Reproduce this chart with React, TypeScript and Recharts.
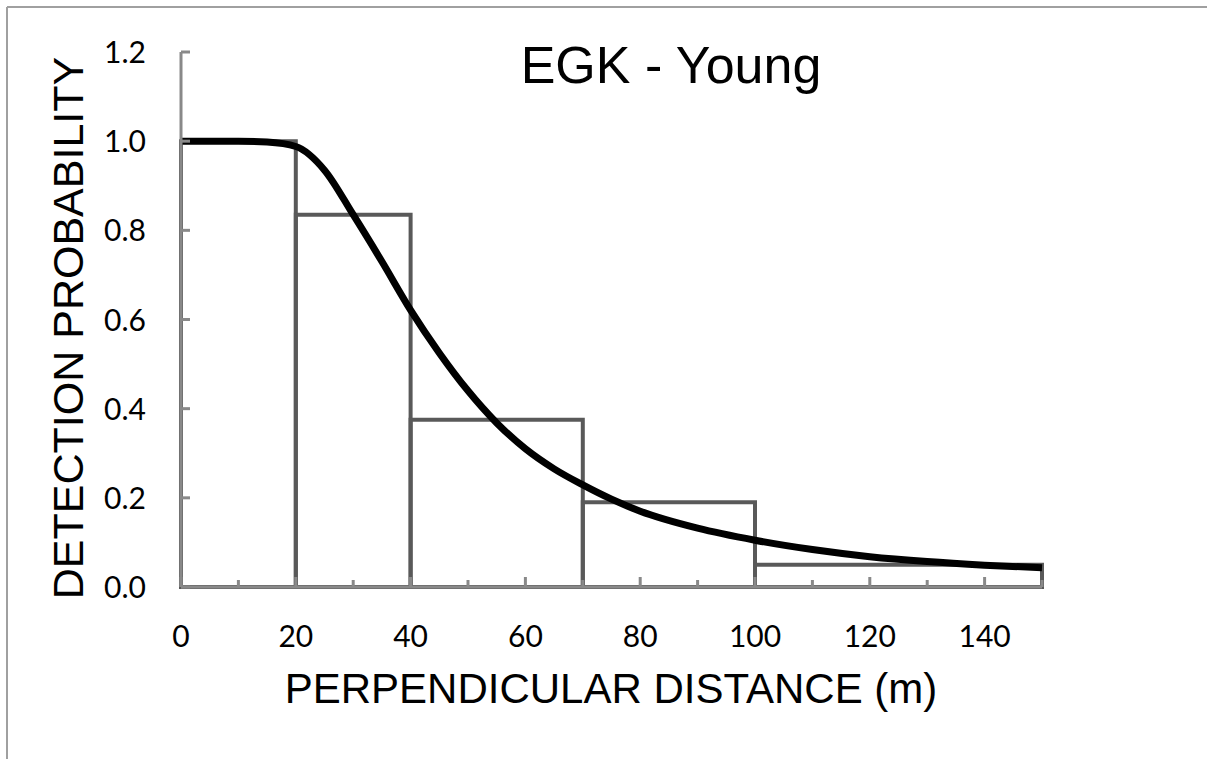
import React from 'react'
import {
  LineChart,
  Line,
  XAxis,
  YAxis,
  ReferenceArea,
  Label,
} from 'recharts'

// detection function curve
const distance = [0, 5, 10, 15, 20, 25, 30, 35, 40, 45, 50, 55, 60, 65, 70, 75, 80, 90, 100, 110, 120, 130, 140, 150]
const probability = [1.0, 1.0, 1.0, 0.998, 0.988, 0.935, 0.835, 0.73, 0.621, 0.525, 0.44, 0.368, 0.31, 0.265, 0.229, 0.197, 0.17, 0.132, 0.105, 0.084, 0.068, 0.057, 0.049, 0.043]

// histogram bins
const binStart = [0, 20, 40, 70, 100]
const binEnd = [20, 40, 70, 100, 150]
const binHeight = [1.0, 0.835, 0.375, 0.19, 0.05]

const xTicks = [0, 10, 20, 30, 40, 50, 60, 70, 80, 90, 100, 110, 120, 130, 140, 150]
const yTicks = [0, 0.2, 0.4, 0.6, 0.8, 1.0, 1.2]

const data = distance.map((d, i) => ({ d, p: probability[i] }))

const axisColor = '#898989'
const tickFont = 'Lato, "Open Sans", sans-serif'
const labelFont = '"Liberation Sans", Arial, sans-serif'

const XTick = (props: any) => {
  const { x, y, payload } = props
  const v = payload.value
  const major = v % 20 === 0
  return (
    <g>
      <line x1={x} x2={x} y1={y} y2={y - (major ? 10 : 7)} stroke={axisColor} strokeWidth={3} />
      {major && v <= 140 && (
        <text x={x} y={y + 60} textAnchor="middle" fontFamily={tickFont} fontSize={30} fill="#000">
          {v}
        </text>
      )}
    </g>
  )
}

const YTick = (props: any) => {
  const { x, y, payload } = props
  return (
    <g>
      <line x1={x} x2={x + 9} y1={y} y2={y} stroke={axisColor} strokeWidth={3} />
      <text x={x - 35} y={y + 11} textAnchor="end" fontFamily={tickFont} fontSize={30} fill="#000">
        {payload.value.toFixed(1)}
      </text>
    </g>
  )
}

export default function App() {
  return (
    <div style={{ position: 'fixed', left: 0, top: 0, width: 1207, height: 759, background: '#fff', overflow: 'hidden' }}>
      <svg width={1207} height={759} style={{ position: 'absolute', left: 0, top: 0 }}>
        <line x1={7} y1={7} x2={1207} y2={7} stroke="#a0a0a0" strokeWidth={2} />
        <line x1={7} y1={7} x2={7} y2={759} stroke="#a0a0a0" strokeWidth={2} />
      </svg>
      <div style={{ position: 'absolute', left: 0, top: 0 }}>
        <LineChart width={1207} height={759} data={data} margin={{ top: 52, right: 165, left: 81, bottom: 92 }}>
          <XAxis
            dataKey="d"
            type="number"
            domain={[0, 150]}
            ticks={xTicks}
            interval={0}
            height={80}
            tickSize={0}
            tickMargin={0}
            tickLine={false}
            axisLine={{ stroke: axisColor, strokeWidth: 3 }}
            tick={<XTick />}
          >
            <Label
              content={() => (
                <text x={611} y={703} textAnchor="middle" fontFamily={labelFont} fontSize={42} fill="#000">
                  PERPENDICULAR DISTANCE (m)
                </text>
              )}
            />
          </XAxis>
          <YAxis
            type="number"
            domain={[0, 1.2]}
            ticks={yTicks}
            interval={0}
            width={100}
            tickSize={0}
            tickMargin={0}
            tickLine={false}
            axisLine={{ stroke: axisColor, strokeWidth: 3 }}
            tick={<YTick />}
          >
            <Label
              content={() => (
                <text
                  x={83}
                  y={328}
                  transform="rotate(-90 83 328)"
                  textAnchor="middle"
                  fontFamily={labelFont}
                  fontSize={43}
                  fill="#000"
                >
                  DETECTION PROBABILITY
                </text>
              )}
            />
          </YAxis>
          {binStart.map((s, i) => (
            <ReferenceArea
              key={i}
              x1={s}
              x2={binEnd[i]}
              y1={0}
              y2={binHeight[i]}
              fill="none"
              fillOpacity={0}
              stroke="#595959"
              strokeWidth={4}
              strokeOpacity={1}
            />
          ))}
          <Line
            dataKey="p"
            type="monotone"
            stroke="#000"
            strokeWidth={7}
            dot={false}
            activeDot={false}
            isAnimationActive={false}
          />
          <text x={671} y={83} textAnchor="middle" fontFamily={labelFont} fontSize={52} fill="#000">
            EGK - Young
          </text>
        </LineChart>
      </div>
    </div>
  )
}
